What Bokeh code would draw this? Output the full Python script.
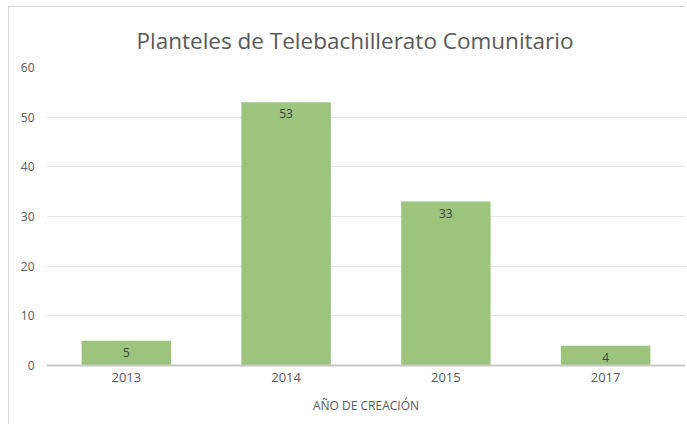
from bokeh.plotting import figure
from bokeh.models import ColumnDataSource, LabelSet, FixedTicker, CategoricalAxis, Title
from bokeh.core.properties import value
from bokeh.embed import file_html
from bokeh.resources import INLINE

years = ["2013", "2014", "2015", "2017"]
counts = [5, 53, 33, 4]
labels = [str(c) for c in counts]
y_ticks = [0, 10, 20, 30, 40, 50, 60]

title_text = "Planteles de Telebachillerato Comunitario"
x_title = "AÑO DE CREACIÓN"

src = ColumnDataSource(dict(x=years, top=counts, lab=labels))

FONT = "Open Sans"
p = figure(x_range=years, y_range=(0, 60), width=677, height=418,
           output_backend="svg", toolbar_location=None, title_location=None,
           min_border_left=37, min_border_right=1, min_border_top=60,
           min_border_bottom=60)
p.styles = {"border-left": "1px solid #d9d9d9", "border-top": "1px solid #d9d9d9",
            "margin-left": "8px", "margin-top": "6px"}
p.x_range.range_padding = 0

# invisible spacer between plot area and title
spacer = CategoricalAxis(axis_line_color=None, major_tick_line_color=None,
                         minor_tick_line_color=None, major_tick_in=0, major_tick_out=7,
                         major_label_text_font_size="0px", major_label_standoff=0,
                         major_label_text_color=None)
p.add_layout(spacer, "above")

p.add_layout(Title(text=title_text, align="left", offset=90, text_font=FONT,
                   text_font_style="normal", text_font_size="22.5px",
                   text_color="#595959"), "above")

p.vbar(x="x", top="top", width=0.56, source=src, color="#9cc47d", line_color=None)

p.add_layout(LabelSet(x="x", y="top", text="lab", source=src, text_align="center",
                      text_baseline="top", y_offset=-7, text_font=value(FONT),
                      text_font_size=value("12px"), text_color="#404040"))

p.outline_line_color = None
p.background_fill_color = "white"
p.border_fill_color = "white"

p.xgrid.grid_line_color = None
p.ygrid.grid_line_color = "#e6e6e6"
p.ygrid.grid_line_width = 1

p.yaxis.ticker = FixedTicker(ticks=y_ticks)
p.yaxis.axis_line_color = None
p.yaxis.major_tick_line_color = None
p.yaxis.major_tick_out = 0
p.yaxis.major_tick_in = 0
p.yaxis.minor_tick_line_color = None
p.yaxis.major_label_standoff = 12
p.yaxis.major_label_text_font = FONT
p.yaxis.major_label_text_font_size = "12px"
p.yaxis.major_label_text_color = "#595959"

xa = p.below[0]
xa.axis_line_color = "#c8c8c8"
xa.axis_line_width = 2
xa.major_tick_line_color = None
xa.major_tick_out = 0
xa.major_tick_in = 0
xa.minor_tick_line_color = None
xa.major_label_standoff = 7
xa.major_label_text_font = FONT
xa.major_label_text_font_size = "13px"
xa.major_label_text_color = "#595959"
xa.axis_label = x_title
xa.axis_label_standoff = 12
xa.axis_label_text_font = FONT
xa.axis_label_text_font_style = "normal"
xa.axis_label_text_font_size = "12px"
xa.axis_label_text_color = "#595959"

open("out.html", "w").write(file_html(p, INLINE))
